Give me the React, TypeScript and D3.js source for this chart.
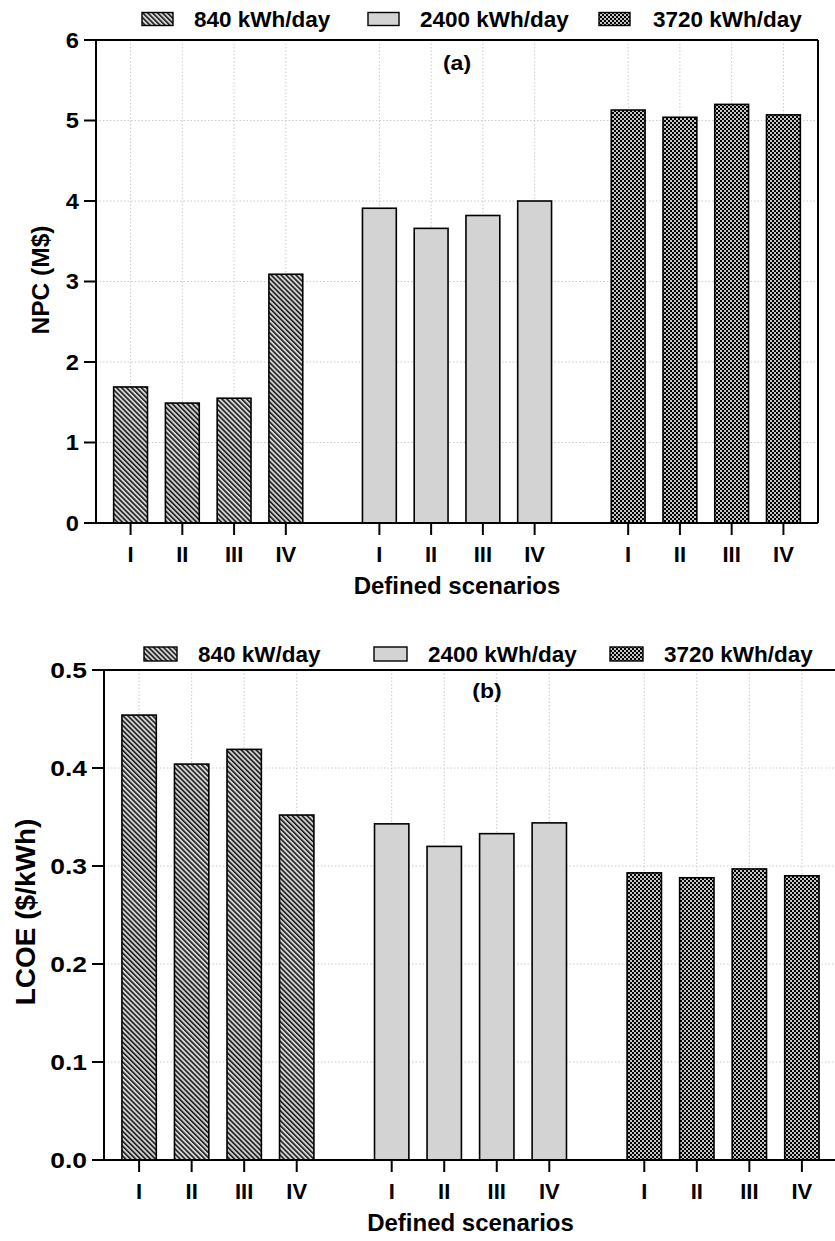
import React from "react";
import * as d3 from "d3";

// Scenario labels shared by both panels
const scenarios = ["I", "II", "III", "IV"];

// Panel (a): net present cost, M$
const npcGroups = ["840 kWh/day", "2400 kWh/day", "3720 kWh/day"];
const npc840 = [1.69, 1.49, 1.55, 3.09];
const npc2400 = [3.91, 3.66, 3.82, 4.0];
const npc3720 = [5.13, 5.04, 5.2, 5.07];
const npcTicks = [0, 1, 2, 3, 4, 5, 6];

// Panel (b): levelized cost of energy, $/kWh
const lcoeGroups = ["840 kW/day", "2400 kWh/day", "3720 kWh/day"];
const lcoe840 = [0.454, 0.404, 0.419, 0.352];
const lcoe2400 = [0.343, 0.32, 0.333, 0.344];
const lcoe3720 = [0.293, 0.288, 0.297, 0.29];
const lcoeTicks = [0, 0.1, 0.2, 0.3, 0.4, 0.5];

const patternIds = ["hatch", "plain", "checker"];
const FONT = "'Liberation Sans', Arial, sans-serif";

type PanelProps = {
  groups: string[];
  series: number[][];
  ticks: number[];
  fmt: (v: number) => string;
  left: number;
  right: number;
  top: number;
  bottom: number;
  tickFont: number;
  tickStretch: number;
  yLabel: string;
  yLabelX: number;
  yLabelY: number;
  yLabelFont: number;
  tag: string;
  tagX: number;
  tagY: number;
  legendY: number;
  legendSwatchX: number[];
  legendTextX: number[];
  swatchW: number;
  swatchH: number;
};

function fillFor(i: number) {
  return i === 1 ? "#d3d3d3" : `url(#${patternIds[i]})`;
}

function Panel(p: PanelProps) {
  const y = d3
    .scaleLinear()
    .domain([0, p.ticks[p.ticks.length - 1]])
    .range([p.bottom, p.top]);
  const xGroup = d3
    .scaleBand<string>()
    .domain(p.groups)
    .range([p.left, p.right])
    .paddingInner(0.168)
    .paddingOuter(0.035);
  const xScen = d3
    .scaleBand<string>()
    .domain(scenarios)
    .range([0, xGroup.bandwidth()])
    .paddingInner(0.346)
    .paddingOuter(0.173);
  const bw = xScen.bandwidth();
  const centers: number[] = [];
  p.groups.forEach((g) =>
    scenarios.forEach((s) => centers.push((xGroup(g) as number) + (xScen(s) as number) + bw / 2))
  );
  const tickLen = 12;
  const axisMid = (centers[0] + centers[centers.length - 1]) / 2;

  return (
    <g>
      {/* grid */}
      {p.ticks.map((t) => (
        <line
          key={"hg" + t}
          x1={p.left}
          x2={p.right}
          y1={y(t)}
          y2={y(t)}
          stroke="#c4c4c4"
          strokeWidth={0.9}
          strokeDasharray="1.5,2"
        />
      ))}
      {centers.map((c, i) => (
        <line
          key={"vg" + i}
          x1={c}
          x2={c}
          y1={p.top}
          y2={p.bottom}
          stroke="#c4c4c4"
          strokeWidth={0.9}
          strokeDasharray="1.5,2"
        />
      ))}

      {/* bars */}
      {p.groups.map((g, gi) =>
        scenarios.map((s, si) => {
          const v = p.series[gi][si];
          const x0 = (xGroup(g) as number) + (xScen(s) as number);
          return (
            <rect
              key={g + s}
              x={x0}
              y={y(v)}
              width={bw}
              height={y(0) - y(v)}
              fill={fillFor(gi)}
              stroke="#000"
              strokeWidth={1.6}
            />
          );
        })
      )}

      {/* frame */}
      <line x1={p.left} x2={p.left} y1={p.top} y2={p.bottom} stroke="#000" strokeWidth={2} />
      <line x1={p.right} x2={p.right} y1={p.top} y2={p.bottom} stroke="#000" strokeWidth={2} />
      <line x1={p.left - tickLen} x2={p.right} y1={p.top} y2={p.top} stroke="#000" strokeWidth={2} />
      <line x1={p.left - tickLen} x2={p.right} y1={p.bottom} y2={p.bottom} stroke="#000" strokeWidth={2} />

      {/* y axis ticks */}
      {p.ticks.map((t) => (
        <g key={"yt" + t}>
          <line x1={p.left - tickLen} x2={p.left} y1={y(t)} y2={y(t)} stroke="#000" strokeWidth={2} />
          <text
            transform={`translate(${p.left - tickLen - 5},${y(t)}) scale(${p.tickStretch},1)`}
            dy="0.36em"
            textAnchor="end"
            fontFamily={FONT}
            fontWeight="bold"
            fontSize={p.tickFont}
          >
            {p.fmt(t)}
          </text>
        </g>
      ))}

      {/* x axis ticks */}
      {centers.map((c, i) => (
        <g key={"xt" + i}>
          <line x1={c} x2={c} y1={p.bottom} y2={p.bottom + 12} stroke="#000" strokeWidth={2} />
          <text
            x={c}
            y={p.bottom + 39}
            textAnchor="middle"
            fontFamily={FONT}
            fontWeight="bold"
            fontSize={22}
          >
            {scenarios[i % scenarios.length]}
          </text>
        </g>
      ))}

      <text
        x={axisMid}
        y={p.bottom + 71}
        textAnchor="middle"
        fontFamily={FONT}
        fontWeight="bold"
        fontSize={24}
      >
        Defined scenarios
      </text>

      <text
        transform={`translate(${p.yLabelX},${p.yLabelY}) rotate(-90)`}
        textAnchor="middle"
        fontFamily={FONT}
        fontWeight="bold"
        fontSize={p.yLabelFont}
      >
        {p.yLabel}
      </text>

      <text
        transform={`translate(${p.tagX},${p.tagY}) scale(1.15,1)`}
        textAnchor="middle"
        fontFamily={FONT}
        fontWeight="bold"
        fontSize={20}
      >
        {p.tag}
      </text>

      {/* legend */}
      {p.groups.map((g, gi) => (
        <g key={"lg" + g}>
          <rect
            x={p.legendSwatchX[gi]}
            y={p.legendY - p.swatchH / 2}
            width={p.swatchW}
            height={p.swatchH}
            fill={fillFor(gi)}
            stroke="#000"
            strokeWidth={1.4}
          />
          <text
            x={p.legendTextX[gi]}
            y={p.legendY}
            dy="0.36em"
            fontFamily={FONT}
            fontWeight="bold"
            fontSize={22.5}
          >
            {g}
          </text>
        </g>
      ))}
    </g>
  );
}

export default function App() {
  return (
    <svg
      width={835}
      height={1241}
      style={{ position: "absolute", left: 0, top: 0, background: "#fff" }}
    >
      <defs>
        <pattern
          id="hatch"
          patternUnits="userSpaceOnUse"
          width={3.5}
          height={3.5}
          patternTransform="rotate(-45)"
        >
          <rect width={3.5} height={3.5} fill="#d3d3d3" />
          <line x1={0.8} x2={0.8} y1={0} y2={3.5} stroke="#000" strokeWidth={1.4} />
        </pattern>
        <pattern id="checker" patternUnits="userSpaceOnUse" width={4} height={4}>
          <rect width={4} height={4} fill="#c6c6c6" />
          <rect x={0} y={0} width={2} height={2} fill="#000" />
          <rect x={2} y={2} width={2} height={2} fill="#000" />
        </pattern>
      </defs>

      <Panel
        groups={npcGroups}
        series={[npc840, npc2400, npc3720]}
        ticks={npcTicks}
        fmt={d3.format("d")}
        left={96}
        right={818}
        top={40}
        bottom={523}
        tickFont={21.5}
        tickStretch={1.1}
        yLabel="NPC (M$)"
        yLabelX={49}
        yLabelY={280}
        yLabelFont={24.5}
        tag="(a)"
        tagX={457}
        tagY={70}
        legendY={19}
        legendSwatchX={[142, 368, 599]}
        legendTextX={[194, 420, 653]}
        swatchW={31}
        swatchH={13}
      />

      <Panel
        groups={lcoeGroups}
        series={[lcoe840, lcoe2400, lcoe3720]}
        ticks={lcoeTicks}
        fmt={d3.format(".1f")}
        left={104}
        right={837}
        top={670}
        bottom={1160}
        tickFont={22}
        tickStretch={1.2}
        yLabel="LCOE ($/kWh)"
        yLabelX={35}
        yLabelY={912}
        yLabelFont={28}
        tag="(b)"
        tagX={487}
        tagY={698}
        legendY={654}
        legendSwatchX={[144, 374, 610]}
        legendTextX={[198, 428, 664]}
        swatchW={33}
        swatchH={14}
      />
    </svg>
  );
}
